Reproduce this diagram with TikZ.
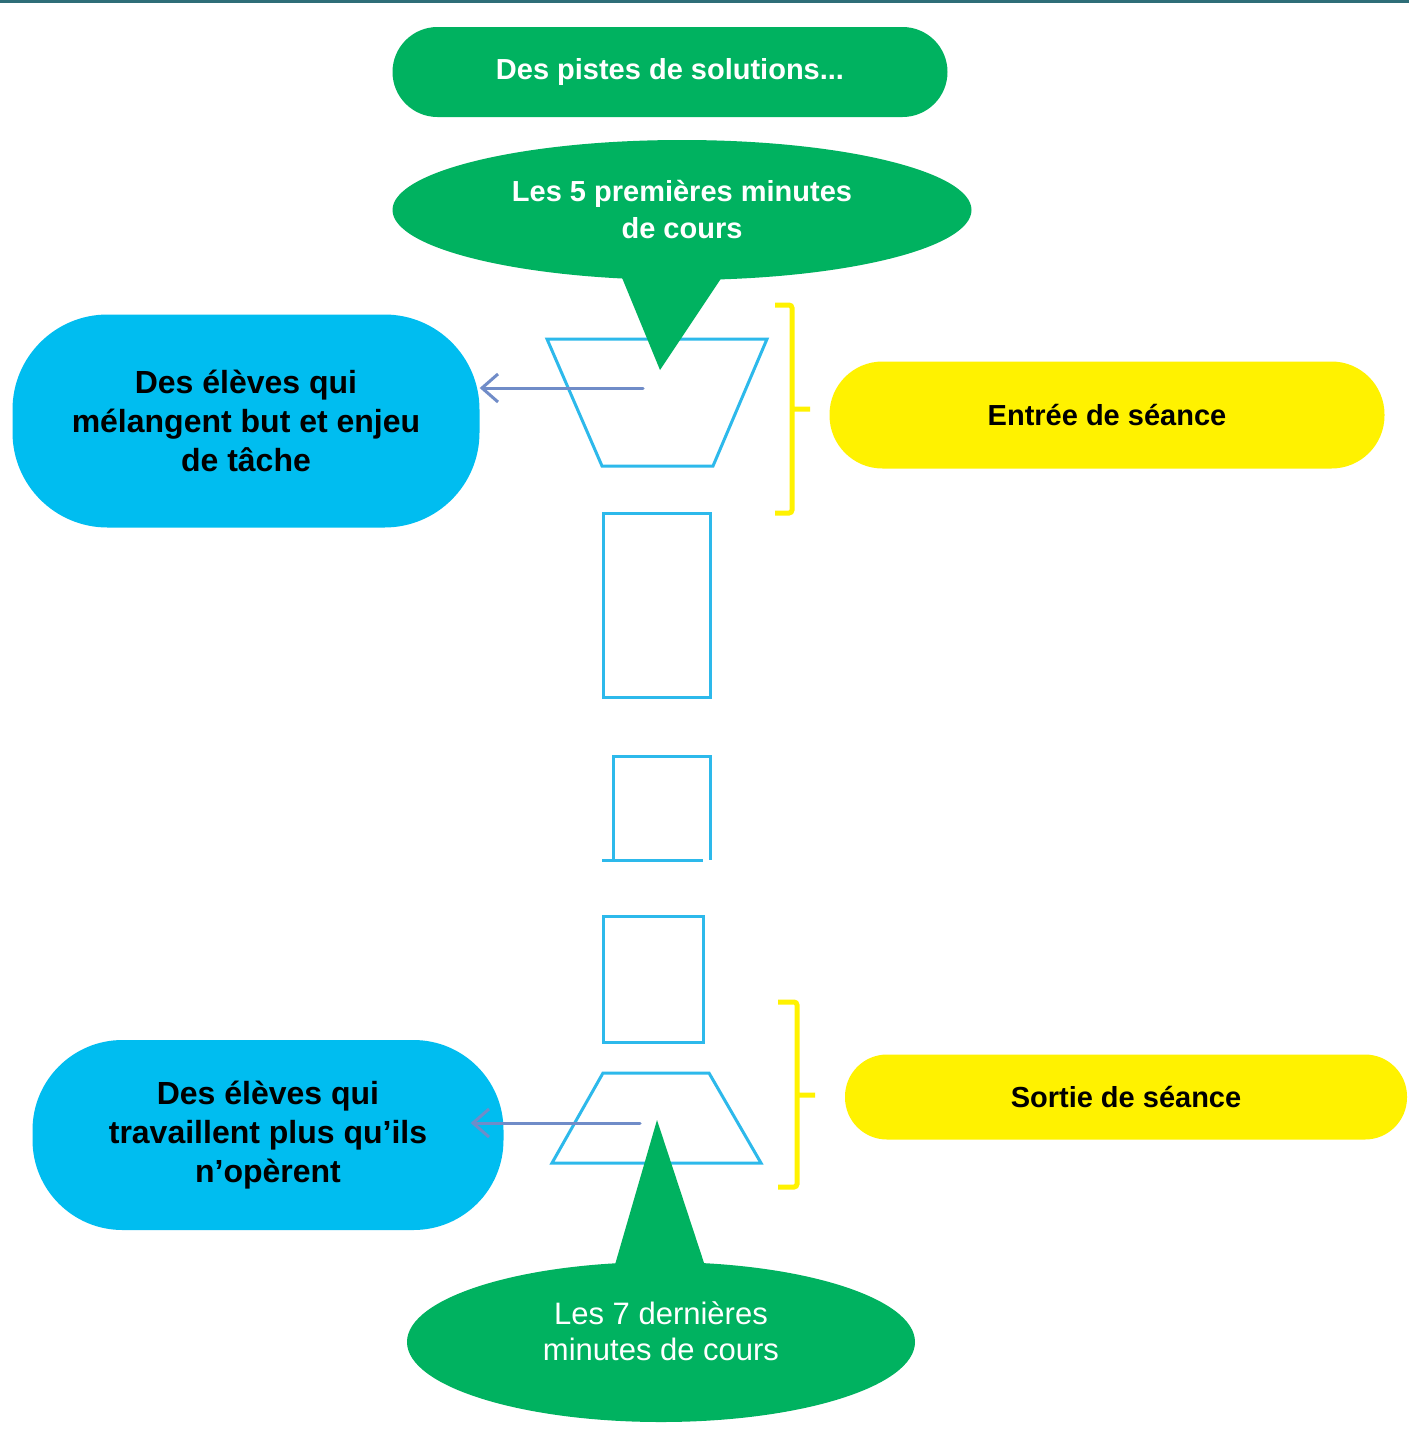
\documentclass[tikz,border=0pt]{standalone}
\usepackage{fontspec}
\setmainfont{Liberation Sans}
\usetikzlibrary{shapes.geometric,arrows.meta}
\definecolor{solgreen}{RGB}{0,178,96}
\definecolor{pupilblue}{RGB}{0,189,240}
\definecolor{phaseyellow}{RGB}{255,242,0}
\definecolor{funnelblue}{RGB}{45,185,235}
\definecolor{linkblue}{RGB}{112,140,200}
\definecolor{topteal}{RGB}{46,110,120}
\begin{document}
\begin{tikzpicture}[x=1pt,y=-1pt,
    pill/.style={rectangle,rounded corners=#1,inner sep=0pt,align=center},
    greenpill/.style={pill=45pt,fill=solgreen,text=white,font=\fontsize{29pt}{37pt}\selectfont\bfseries},
    bluepill/.style={pill=#1,fill=pupilblue,text=black,font=\fontsize{32pt}{39pt}\selectfont\bfseries},
    yellowpill/.style={pill=#1,fill=phaseyellow,text=black,font=\fontsize{29pt}{37pt}\selectfont\bfseries},
    bubble/.style={ellipse,fill=solgreen,text=white,inner sep=0pt,align=center},
    funnel/.style={draw=funnelblue,line width=3pt},
    brace/.style={draw=phaseyellow,line width=5pt,rounded corners=3pt},
    linkarrow/.style={draw=linkblue,line width=3pt,line cap=round,-{Straight Barb[length=16pt,width=28pt]}}]
  \useasboundingbox[fill=white] (0,0) rectangle (1409,1440);
  \fill[topteal] (0,0) rectangle (1409,3);
  % title
  \node[greenpill,minimum width=555pt,minimum height=90pt] (title) at (670,72) {Des pistes de solutions...};
  % start of the lesson
  \draw[funnel] (547,339) -- (767,339) -- (713,466) -- (602,466) -- cycle;
  \node[bubble,minimum width=579pt,minimum height=140pt,font=\fontsize{29pt}{37pt}\selectfont\bfseries] (first) at (682,210) {Les 5 premières minutes\\de cours};
  \fill[solgreen] (618,268) -- (728,268) -- (660,370) -- cycle;
  \node[bluepill=95pt,minimum width=467pt,minimum height=213pt] (pupils1) at (246,421) {Des élèves qui\\mélangent but et enjeu\\de tâche};
  \coordinate (tip1) at (643,388);
  \draw[linkarrow] (tip1) -- (tip1 -| pupils1.east);
  \draw[brace] (775,305) -- (792,305) -- (792,513) -- (775,513) (792,409) -- (810,409);
  \node[yellowpill=53pt,minimum width=555pt,minimum height=107pt] (entree) at (1107,415) {Entrée de séance};
  % middle blocks
  \draw[funnel] (603,513) rectangle (710,697);
  \draw[funnel] (613,860) -- (613,756) -- (710,756) -- (710,860);
  \draw[funnel] (602,860) -- (703,860);
  \draw[funnel] (603,916) rectangle (703,1042);
  % end of the lesson
  \draw[funnel] (603,1073) -- (709,1073) -- (761,1163) -- (552,1163) -- cycle;
  \node[bluepill=90pt,minimum width=471pt,minimum height=190pt] (pupils2) at (268,1135) {Des élèves qui\\travaillent plus qu’ils\\n’opèrent};
  \coordinate (tip2) at (640,1123);
  \draw[linkarrow,shorten >=-33pt] (tip2) -- (tip2 -| pupils2.east);
  \draw[brace] (778,1002) -- (797,1002) -- (797,1187) -- (778,1187) (797,1095) -- (815,1095);
  \node[yellowpill=42pt,minimum width=562pt,minimum height=85pt] (sortie) at (1126,1097) {Sortie de séance};
  \node[bubble,minimum width=508pt,minimum height=160pt,text depth=22pt,font=\fontsize{31pt}{36pt}\selectfont] (last) at (661,1342) {Les 7 dernières\\minutes de cours};
  \fill[solgreen] (612,1275) -- (708,1275) -- (657,1120) -- cycle;
\end{tikzpicture}
\end{document}
